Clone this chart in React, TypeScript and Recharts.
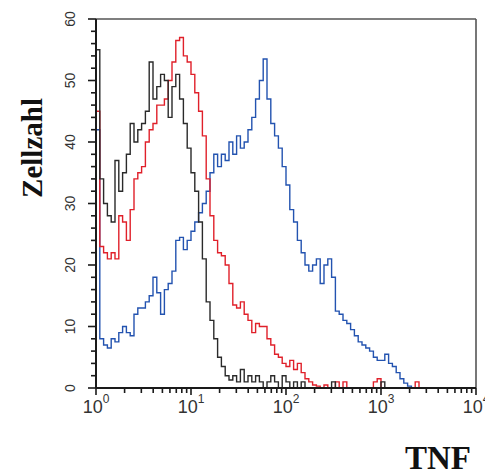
import React from 'react';
import { LineChart, Line, XAxis, YAxis, ReferenceLine } from 'recharts';

// channel index 0..100 spans 10^0 .. 10^4 (25 channels per decade)
const decadeTicks = [0, 25, 50, 75, 100];
const decadeLabels = ['0', '1', '2', '3', '4'];
const yMajorTicks = [0, 10, 20, 30, 40, 50, 60];
const yMinorTicks = [2, 4, 6, 8, 12, 14, 16, 18, 22, 24, 26, 28, 32, 34, 36, 38, 42, 44, 46, 48, 52, 54, 56, 58];

const blackCounts = [
  55, 34, 30, 28, 27, 37, 32, 35, 38, 43,
  40, 42, 43, 45, 53, 47, 49, 51, 50, 44,
  49, 51, 47, 43, 39, 35, 32, 27, 21, 14,
  11, 8, 5, 3.5, 2, 1.3, 2, 1, 3, 1,
  2, 1, 2, 1, 0, 1, 2, 1, 0, 2,
  1, 0, 1, 0, 1, 0, 0, 0, 0, 0,
  0, 0, 1, 0, 0, 0, 0, 0, 0, 0,
  0, 0, 0, 0, 0, 1, 0, 0, 0, 0,
  0, 0, 0, 0, 0, 0, 0, 0, 0, 0,
  0, 0, 0, 0, 0, 0, 0, 0, 0, 0,
  0,
];

const redCounts = [
  45, 23, 22, 21, 22, 21, 28, 27, 24, 29,
  34, 35, 36, 40, 42, 43, 46, 46, 47, 50,
  53, 56.5, 57, 54, 53, 51, 48, 45, 41, 34,
  28, 24, 22, 21.5, 20, 17, 13.5, 13, 14, 12,
  11, 9, 10.5, 10, 10, 8, 7, 5.5, 5, 4,
  3.5, 4.5, 3, 4, 2.5, 1.5, 1, 0.5, 0.3, 0,
  0.5, 0, 0, 1, 0, 1, 0, 0, 0, 0,
  0, 0, 0, 1, 1.5, 0, 0, 0, 0, 0,
  0, 0, 0, 0, 1, 0, 0, 0, 0, 0,
  0, 0, 0, 0, 0, 0, 0, 0, 0, 0,
  0,
];

const blueCounts = [
  42, 8, 7, 6.5, 8, 7.5, 9, 10, 9, 8.5,
  12, 13, 13, 14, 15, 18, 15.5, 12, 16, 17,
  19, 24, 24.5, 22.5, 24, 25.5, 27, 28.5, 30, 32,
  35, 38, 36, 38, 37, 40, 38, 41, 39, 40,
  42, 44, 47, 50, 53.5, 47, 43, 41, 39, 36,
  33, 29, 27, 24, 22, 20, 19, 20, 21, 17,
  20, 21, 18, 12.5, 12, 11, 10.5, 9.5, 8.5, 7.5,
  7, 6.5, 6, 5, 4.5, 4.5, 5.5, 4, 3.5, 2.5,
  1.5, 0.8, 0.3, 0, 0, 0, 0, 0, 0, 0,
  0, 0, 0, 0, 0, 0, 0, 0, 0, 0,
  0,
];

const tableData = blackCounts.map((b, i) => ({
  ch: i,
  black: b,
  red: redCounts[i],
  blue: blueCounts[i],
}));

// minor log ticks (2..9 within each decade)
const xMinorTicks: number[] = [];
for (let d = 0; d < 4; d++) {
  for (let k = 2; k <= 9; k++) xMinorTicks.push(decadeTicks[d] + 25 * Math.log10(k));
}

const W = 485;
const H = 475;
const margin = { top: 19, right: 9, bottom: 57, left: 36 };
const xAxisHeight = 30;
const yAxisWidth = 60;
const plotLeft = margin.left + yAxisWidth;
const plotTop = margin.top;
const plotWidth = W - plotLeft - margin.right;
const plotHeight = H - margin.top - margin.bottom - xAxisHeight;
const xDomain = [0, 100];
const yDomain = [0, 60];
const xPos = (v: number) => plotLeft + ((v - xDomain[0]) / (xDomain[1] - xDomain[0])) * plotWidth;
const yPos = (v: number) => plotTop + plotHeight - ((v - yDomain[0]) / (yDomain[1] - yDomain[0])) * plotHeight;

const axisColor = '#1a1a1a';
const labelColor = '#333';
const sans = '"Liberation Sans", Arial, sans-serif';
const serif = '"Liberation Serif", "Times New Roman", serif';

const XLabel = (props: any) => {
  const x = Number(props.x);
  const y = Number(props.y);
  const idx = decadeTicks.findIndex((t) => Math.abs(t - props.payload.value) < 1e-6);
  if (idx < 0) return null;
  return (
    <text x={x} y={y + 25} textAnchor="middle" fontFamily={sans} fontSize={18} fill={labelColor}>
      <tspan>10</tspan>
      <tspan dy={-10} fontSize={12}>{decadeLabels[idx]}</tspan>
    </text>
  );
};

const YLabel = (props: any) => {
  const x = Number(props.x);
  const y = Number(props.y);
  const lx = x - 26;
  return (
    <text
      x={lx}
      y={y}
      transform={`rotate(-90 ${lx} ${y})`}
      textAnchor="middle"
      dominantBaseline="central"
      fontFamily={sans}
      fontSize={14}
      fill={labelColor}
    >
      {props.payload.value}
    </text>
  );
};

export default function App() {
  const axisY = plotTop + plotHeight;
  return (
    <div style={{ position: 'absolute', left: 0, top: 0, width: W, height: H, background: '#fff' }}>
      <LineChart width={W} height={H} data={tableData} margin={margin}>
        <XAxis
          dataKey="ch"
          type="number"
          domain={xDomain}
          ticks={decadeTicks}
          interval={0}
          tick={<XLabel />}
          tickLine={false}
          tickSize={0}
          tickMargin={0}
          height={xAxisHeight}
          axisLine={{ stroke: axisColor, strokeWidth: 1.8 }}
          allowDataOverflow
        />
        <YAxis
          type="number"
          domain={yDomain}
          ticks={yMajorTicks}
          interval={0}
          tick={<YLabel />}
          tickLine={false}
          tickSize={0}
          tickMargin={0}
          width={yAxisWidth}
          axisLine={{ stroke: axisColor, strokeWidth: 2 }}
          allowDataOverflow
        />
        <ReferenceLine y={60} stroke="#555" strokeWidth={1.6} />
        <ReferenceLine x={100} stroke="#555" strokeWidth={1.6} />
        <Line type="stepAfter" dataKey="blue" stroke="#2353b0" strokeWidth={1.4} dot={false} isAnimationActive={false} />
        <Line type="stepAfter" dataKey="red" stroke="#e0202a" strokeWidth={1.4} dot={false} isAnimationActive={false} />
        <Line type="stepAfter" dataKey="black" stroke="#2a2a2a" strokeWidth={1.4} dot={false} isAnimationActive={false} />
      </LineChart>
      <svg width={W} height={H} style={{ position: 'absolute', left: 0, top: 0, pointerEvents: 'none' }}>
        <g stroke={axisColor} strokeWidth={1.6}>
          {decadeTicks.map((t) => (
            <line key={`xM${t}`} x1={xPos(t)} x2={xPos(t)} y1={axisY} y2={axisY + 7} />
          ))}
          {xMinorTicks.map((t) => (
            <line key={`xm${t}`} x1={xPos(t)} x2={xPos(t)} y1={axisY} y2={axisY + 5} />
          ))}
          {yMajorTicks.map((t) => (
            <line key={`yM${t}`} x1={plotLeft - 8} x2={plotLeft} y1={yPos(t)} y2={yPos(t)} />
          ))}
          {yMinorTicks.map((t) => (
            <line key={`ym${t}`} x1={plotLeft - 5} x2={plotLeft} y1={yPos(t)} y2={yPos(t)} />
          ))}
        </g>
        <text
          transform="translate(42 148) rotate(-90)"
          textAnchor="middle"
          fontFamily={serif}
          fontWeight="bold"
          fontSize={29}
          fill="#111"
        >
          Zellzahl
        </text>
        <text x={471} y={469} textAnchor="end" fontFamily={serif} fontWeight="bold" fontSize={33} fill="#111">
          TNF
        </text>
      </svg>
    </div>
  );
}
